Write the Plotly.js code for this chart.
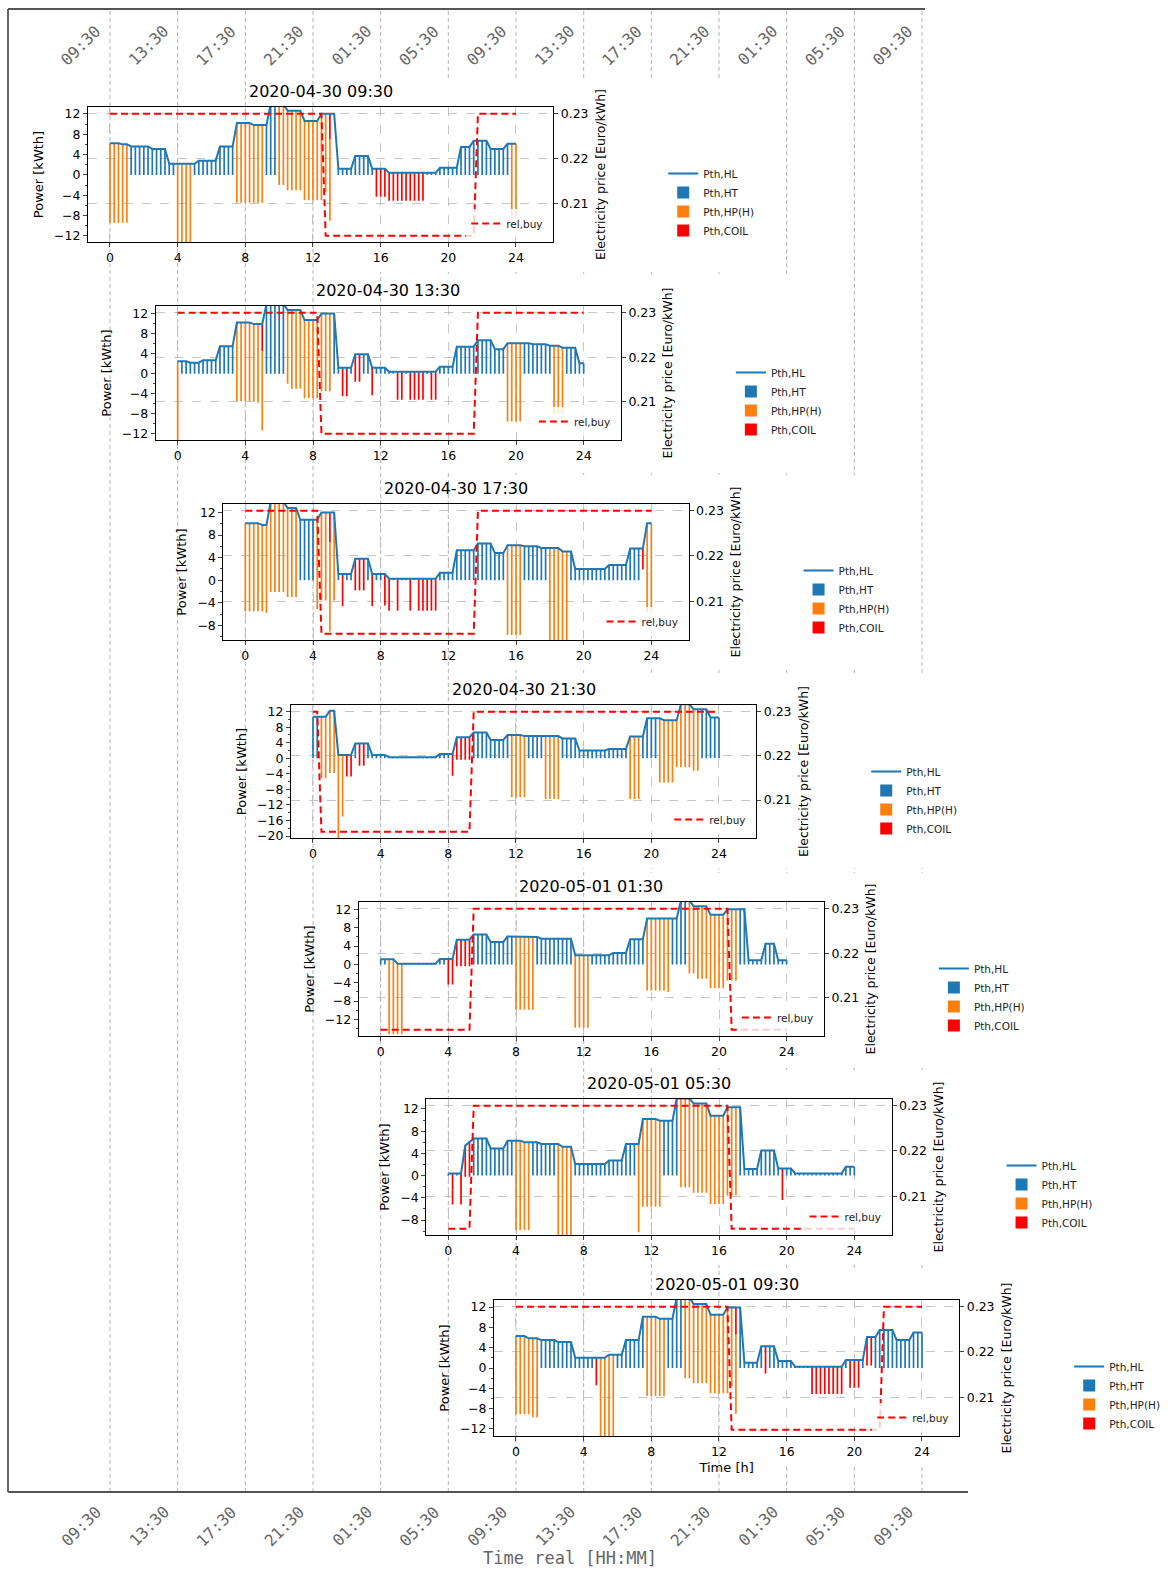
<!DOCTYPE html>
<html><head><meta charset="utf-8">
<script src="https://cdn.plot.ly/plotly-3.0.1.min.js"></script>
<style>html,body{margin:0;padding:0;background:#fff}</style>
</head><body>
<div id="chart" style="width:1168px;height:1571px"></div>
<script>
// ---------------- data ----------------
const TITLES = ['2020-04-30 09:30','2020-04-30 13:30','2020-04-30 17:30','2020-04-30 21:30','2020-05-01 01:30','2020-05-01 05:30','2020-05-01 09:30'];
const OUTER_HOURS = [0,4,8,12,16,20,24,28,32,36,40,44,48];
const OUTER_LABELS = ['09:30','13:30','17:30','21:30','01:30','05:30','09:30','13:30','17:30','21:30','01:30','05:30','09:30'];
const X_TICKS = [0,4,8,12,16,20,24];
const PRICE_TICKS = [0.21,0.22,0.23];
const SERIES_NAMES = ['Pth,HL','Pth,HT','Pth,HP(H)','Pth,COIL','rel,buy'];

// heat load: [start hour, value]
const HL1 = [[0,6.2],[0.75,6.0],[1.25,5.6],[2.5,5.1],[3.5,2.2],[5.25,2.8],[6.5,5.6],[7.5,10.2],[8.5,9.8],[9.5,13.9],[10.5,12.6],[11.5,10.6],[12.5,12.0],[13.5,1.2],[14.5,3.7],[15.5,1.2],[16.5,0.4],[19.5,1.4],[20.75,5.5],[21.5,6.7],[22.5,5.1],[23.5,6.1]];
const HL2 = [[0,2.5],[0.75,2.2],[1.5,2.7],[2.5,5.5],[3.5,10.2],[4.5,9.9],[5.25,13.9],[6.5,12.7],[7.5,10.7],[8.5,12.0],[9.5,1.2],[10.5,3.9],[11.5,1.2],[12.5,0.4],[15.5,1.4],[16.5,5.4],[17.75,6.7],[18.75,4.9],[19.5,6.1],[21,5.9],[22,5.6],[22.75,5.2],[23.75,2.1]];
const HL3 = [[0,10.1],[1.0,9.8],[1.5,13.9],[2.5,12.8],[3.25,10.7],[4.5,12.0],[5.5,1.1],[6.5,3.8],[7.5,1.1],[8.5,0.25],[11.5,1.3],[12.5,5.3],[13.75,6.5],[14.75,4.8],[15.5,6.2],[16.5,6.0],[17.5,5.7],[18.75,5.1],[19.5,2.0],[21.5,2.7],[22.75,5.6],[23.75,10.1]];
const HL4 = [[0,10.7],[1,12.2],[1.5,0.85],[2.5,3.8],[3.5,0.85],[4.5,0.25],[7.5,1.1],[8.5,5.4],[9.5,6.6],[10.5,4.7],[11.5,6.0],[12.5,5.7],[14.75,5.1],[15.75,2.0],[17.5,2.4],[18.75,5.6],[19.75,10.3],[20.75,9.8],[21.75,13.9],[22.5,12.6],[23.5,10.5]];
const HL5 = [[0,1.1],[1,0.15],[3.5,1.2],[4.5,5.4],[5.5,6.5],[6.5,4.9],[7.5,6.1],[8.5,6.0],[9.5,5.6],[11.5,2.0],[13.75,2.5],[14.75,5.5],[15.75,10.0],[17.75,13.9],[18.5,12.7],[19.5,10.8],[20.5,12.0],[21.75,0.9],[22.75,4.5],[23.5,0.9]];
const HL6 = [[0,0.4],[1,5.4],[1.25,6.1],[1.5,6.7],[2.5,4.9],[3.5,6.3],[4.5,6.0],[5.5,5.7],[6.75,5.2],[7.5,2.1],[9.5,2.7],[10.5,5.7],[11.5,10.2],[12.5,9.9],[13.5,13.9],[14.5,13.0],[15.5,10.8],[16.5,12.3],[17.5,1.2],[18.5,4.5],[19.5,1.3],[20.5,0.4],[23.5,1.6]];
const HL7 = [[0,6.3],[0.75,5.85],[1.5,5.5],[2.5,5.1],[3.5,2.0],[5.5,2.6],[6.5,5.5],[7.5,10.1],[8.5,9.7],[9.5,13.9],[10.5,12.6],[11.5,10.5],[12.5,11.9],[13.5,1.05],[14.5,4.3],[15.5,1.4],[16.5,0.25],[19.5,1.6],[20.75,6.1],[21.5,7.5],[22.5,5.5],[23.5,7.0]];

// bars: [start, end, kind (T=HT, H=HP(H), C=COIL), bottom, optional top]
const BAR1 = [[0,1.25,'H',-9.4],[1.25,4,'T'],[4,5,'H',-14],[5,7.5,'T'],[7.5,9.25,'H',-5.5],[9.25,10,'T'],[10,10.5,'H',-2],[10.5,11.5,'H',-3],[11.5,12.75,'H',-5],[12.75,13,'H',-3.4],[13,13.25,'H',-9,7],[13,13.25,'C',7],[13.5,15.75,'T'],[15.75,16.5,'C',-4.3],[16.5,18.75,'C',-5.1],[18.75,23.75,'T'],[23.75,24.25,'H',-8.2]];
const BAR2 = [[0,0.25,'H',-14],[0.25,3.5,'T'],[3.5,4.75,'H',-5.5],[4.75,5,'H',-5.8],[5,5.25,'H',-11.3,4.5],[5,5.25,'C',4.5],[5.25,6.5,'T'],[6.5,6.75,'H',-2],[6.75,7.5,'H',-3],[7.5,8.5,'H',-4.9],[8.5,9.25,'H',-3.5],[9.25,9.75,'T'],[9.75,10.25,'C',-4.5],[10.25,10.5,'T'],[10.5,11,'C',-1.6],[11,11.5,'T'],[11.5,11.75,'C',-4.3],[11.75,13,'T'],[13,13.5,'C',-5.2],[13.5,13.75,'T'],[13.75,14.75,'C',-5.2],[14.75,15,'T'],[15,15.5,'C',-5.2],[15.5,19.5,'T'],[19.5,20.5,'H',-9.5],[20.5,22.25,'T'],[22.25,23,'H',-8],[23,24.25,'T']];
const BAR3 = [[0,1.25,'H',-5.5],[1.25,1.5,'H',-5.8],[1.5,2.5,'H',-2.1],[2.5,3.25,'H',-3.0],[3.25,4.25,'T'],[4.25,4.5,'H',-5.1],[4.5,5,'H',-3.6],[5,5.25,'H',-9.1,6.7],[5,5.25,'C',6.7],[5.25,5.5,'H',-3.6],[5.5,5.75,'T'],[5.75,6,'C',-4.6],[6,6.5,'T'],[6.5,7.25,'C',-1.8],[7.25,7.5,'T'],[7.5,7.75,'C',-4.6],[7.75,8.25,'T'],[8.25,8.5,'C',-4.5],[8.5,8.75,'C',-5.4],[8.75,9,'T'],[9,9.25,'C',-5.4],[9.25,9.75,'T'],[9.75,10,'C',-5.4],[10,10.25,'T'],[10.25,11.5,'C',-5.4],[11.5,15.5,'T'],[15.5,16.5,'H',-9.7],[16.5,18,'T'],[18,19.25,'H',-11],[19.25,23.5,'T'],[23.5,23.75,'C',1.9],[23.75,24.25,'H',-5.7]];
const BAR4 = [[0,0.5,'T'],[0.5,1,'H',-5.1],[1,1.5,'H',-3.8],[1.5,1.75,'H',-21],[1.75,2,'H',-15],[2,2.5,'C',-4.7],[2.5,2.75,'T'],[2.75,3.25,'C',-1.9],[3.25,8.25,'T'],[8.25,8.5,'C',-4.5],[8.5,9.5,'C',-0.4],[9.5,11.75,'T'],[11.75,12.75,'H',-10],[12.75,13.75,'T'],[13.75,14.75,'H',-10.5],[14.75,18.75,'T'],[18.75,19.5,'H',-10.5],[19.5,20.5,'T'],[20.5,21.5,'H',-6.2],[21.5,22.5,'H',-2.3],[22.5,23,'H',-3.2],[23,24.25,'T']];
const BAR5 = [[0,0.5,'T'],[0.5,1.5,'H',-15.2],[1.5,4,'T'],[4,4.5,'C',-4.4],[4.5,5.5,'C',-0.4],[5.5,8,'T'],[8,9.25,'H',-9.9],[9.25,11.5,'T'],[11.5,12.5,'H',-13.8],[12.5,15.75,'T'],[15.75,17,'H',-5.7],[17,17.25,'H',-6],[17.25,18.25,'T'],[18.25,18.75,'H',-2.0],[18.75,19.5,'H',-3.1],[19.5,20.5,'H',-5.2],[20.5,21.25,'H',-3.5],[21.25,24.25,'T']];
const BAR6 = [[0,0.25,'T'],[0.25,0.5,'C',-5.2],[0.5,0.75,'T'],[0.75,1,'C',-5.2],[1,1.5,'C',-0.2],[1.5,4,'T'],[4,5,'H',-9.8],[5,6.5,'T'],[6.5,7.5,'H',-11.5],[7.5,11.25,'T'],[11.25,11.5,'H',-10.2],[11.5,12.75,'H',-5.6],[12.75,13.75,'T'],[13.75,14.5,'H',-2.1],[14.5,15.5,'H',-3.1],[15.5,16.5,'H',-5.1],[16.5,17.25,'H',-3.6],[17.25,19.75,'T'],[19.75,20,'C',-4.4],[20,24.25,'T']];
const BAR7 = [[0,1,'H',-9.1],[1,1.5,'H',-9.7],[1.5,4.75,'T'],[4.75,5,'C',-3.4],[5,6,'H',-14],[6,7.75,'T'],[7.75,9,'H',-5.5],[9,10,'T'],[10,10.5,'H',-2.0],[10.5,11.5,'H',-3.0],[11.5,12.75,'H',-5.0],[12.75,13,'H',-3.6],[13,13.25,'H',-9,6.6],[13,13.25,'C',6.6],[13.25,14.75,'T'],[14.75,15,'C',-1.1],[15,17.5,'T'],[17.5,19.5,'C',-5.1],[19.5,19.75,'T'],[19.75,20.5,'C',-3.9],[20.5,20.75,'T'],[20.75,21.25,'C',0.5],[21.25,24.25,'T']];

// electricity price: [start hour, value]
const PRICE1 = [[0,0.23],[12.75,0.2028],[21.75,0.23]];
const PRICE2 = [[0,0.23],[8.5,0.2028],[17.75,0.23]];
const PRICE3 = [[0,0.23],[4.5,0.2028],[13.75,0.23]];
const PRICE4 = [[0,0.23],[0.5,0.2028],[9.5,0.23]];
const PRICE5 = [[0,0.2028],[5.5,0.23],[20.75,0.2028]];
const PRICE6 = [[0,0.2028],[1.5,0.23],[16.75,0.2028]];
const PRICE7 = [[0,0.23],[12.75,0.2028],[21.75,0.23]];

const HLS = [HL1,HL2,HL3,HL4,HL5,HL6,HL7];
const BARS = [BAR1,BAR2,BAR3,BAR4,BAR5,BAR6,BAR7];
const PRICES = [PRICE1,PRICE2,PRICE3,PRICE4,PRICE5,PRICE6,PRICE7];

// ---------------- layout constants ----------------
const W = 1168, H = 1571;
const PX = (922 - 110) / 48;          // pixels per hour on outer axis
const TOPS = [107,306,504,705,902,1099,1300];
const BOTS = [242,440,640,838,1036,1235,1436];
const XR = [-1.3, 26.2];
const YR = [[-13.2,13.35],[-13.2,13.5],[-10.6,13.5],[-20.5,13.7],[-15.6,13.6],[-10.7,13.8],[-13.4,13.4]];
const PR = [0.2014, 0.2315];
const C_BLUE = '#1f77b4', C_ORANGE = '#ff7f0e', C_RED = '#ff0000';
const FONT = 'DejaVu Sans, sans-serif';
const MONO = 'DejaVu Sans Mono, monospace';

const T = []; for (let i = 0; i <= 96; i++) T.push(i * 0.25);
function stepAt(segs, t) { let v = segs[0][1]; for (const s of segs) if (t >= s[0] - 1e-9) v = s[1]; return v; }
function barSeries(hl, bars, kind) {
  const x = [], y = [], base = [];
  for (const t of T) for (const b of bars) {
    if (b[2] !== kind) continue;
    if (t >= b[0] - 1e-9 && t < b[1] - 1e-9) {
      const top = b.length > 4 ? b[4] : stepAt(hl, t);
      const bot = kind === 'T' ? 0 : b[3];
      x.push(t); base.push(bot); y.push(top - bot);
    }
  }
  return {x, y, base};
}

const data = [{x: [], y: [], xaxis: 'x', yaxis: 'y', type: 'scatter', showlegend: false, hoverinfo: 'skip'}];
const layout = {
  width: W, height: H, autosize: false,
  margin: {l: 0, r: 0, t: 0, b: 0},
  paper_bgcolor: '#fff', plot_bgcolor: 'rgba(0,0,0,0)',
  font: {family: FONT, size: 12, color: '#000'},
  showlegend: true, barmode: 'overlay', hovermode: false,
  xaxis: {domain: [100 / W, 932 / W], range: [-10 / PX, 48 + 10 / PX], visible: false, fixedrange: true},
  yaxis: {domain: [0, 1], range: [0, 1], visible: false, fixedrange: true},
  shapes: [], annotations: []
};

// outer grid lines
for (const h of OUTER_HOURS) {
  layout.shapes.push({type: 'line', xref: 'x', yref: 'paper', x0: h, x1: h, y0: 1 - 1492 / H, y1: 1 - 9 / H,
    line: {color: '#b4b4b4', width: 1, dash: '4px,3px'}, layer: 'below'});
}
// white covers of the inset panels
for (let k = 0; k < 7; k++) {
  layout.shapes.push({type: 'rect', xref: 'x', yref: 'paper', x0: 4 * k + 14, x1: 4 * k + 38.5,
    y0: 1 - (BOTS[k] + 30) / H, y1: 1 - (TOPS[k] - 29) / H, fillcolor: '#fff', line: {width: 0}, layer: 'below'});
}
// outer frame
layout.shapes.push({type: 'line', xref: 'paper', yref: 'paper', x0: 8 / W, x1: 925 / W, y0: 1 - 9 / H, y1: 1 - 9 / H, line: {color: '#555', width: 1.8}});
layout.shapes.push({type: 'line', xref: 'paper', yref: 'paper', x0: 8 / W, x1: 8 / W, y0: 1 - 9 / H, y1: 1 - 1492 / H, line: {color: '#555', width: 1.8}});
layout.shapes.push({type: 'line', xref: 'paper', yref: 'paper', x0: 8 / W, x1: 968 / W, y0: 1 - 1492 / H, y1: 1 - 1492 / H, line: {color: '#555', width: 1.8}});

// outer tick labels
OUTER_HOURS.forEach((h, i) => {
  for (const yc of [46, 1526]) {
    layout.annotations.push({xref: 'x', yref: 'paper', x: h, y: 1 - yc / H, xshift: -29, text: OUTER_LABELS[i],
      textangle: -45, showarrow: false, xanchor: 'center', yanchor: 'middle', font: {family: MONO, size: 16, color: '#666'}});
  }
});
layout.annotations.push({xref: 'paper', yref: 'paper', x: 570 / W, y: 1 - 1558 / H, text: 'Time real [HH:MM]', showarrow: false,
  xanchor: 'center', yanchor: 'middle', font: {family: MONO, size: 17, color: '#666'}});

// inner panels
for (let k = 0; k < 7; k++) {
  const xa = 'x' + (k + 2), ya = 'y' + (k + 2), yp = 'y' + (k + 9);
  const zeroPx = 110 + 4 * k * PX;
  const left = zeroPx + XR[0] * PX, right = zeroPx + XR[1] * PX;
  const legExt = 'legend' + (2 * k + 2), legBuy = 'legend' + (2 * k + 3);
  const hl = HLS[k], bars = BARS[k], pr = PRICES[k];

  data.push({type: 'scatter', mode: 'lines', name: SERIES_NAMES[0], x: T, y: T.map(t => stepAt(hl, t)),
    xaxis: xa, yaxis: ya, line: {color: C_BLUE, width: 2}, legend: legExt, hoverinfo: 'skip'});
  const kinds = [['T', SERIES_NAMES[1], C_BLUE], ['H', SERIES_NAMES[2], C_ORANGE], ['C', SERIES_NAMES[3], C_RED]];
  for (const [kind, nm, col] of kinds) {
    const s = barSeries(hl, bars, kind);
    data.push({type: 'bar', name: nm, x: s.x, y: s.y, base: s.base, width: 0.1, xaxis: xa, yaxis: ya,
      marker: {color: col, line: {width: 0}}, legend: legExt, hoverinfo: 'skip'});
  }
  data.push({type: 'scatter', mode: 'lines', name: SERIES_NAMES[4], x: T, y: T.map(t => stepAt(pr, t)),
    xaxis: xa, yaxis: yp, line: {color: C_RED, width: 2, dash: '7px,4px'}, legend: legBuy, hoverinfo: 'skip'});

  const axKey = 'xaxis' + (k + 2), yKey = 'yaxis' + (k + 2), pKey = 'yaxis' + (k + 9);
  layout[axKey] = {domain: [left / W, right / W], range: XR, anchor: ya, tickvals: X_TICKS, ticks: 'outside', ticklen: 4,
    showline: true, mirror: true, linecolor: '#000', linewidth: 1, showgrid: true, griddash: 'dash', gridcolor: '#b8b8b8',
    gridwidth: 0.8, zeroline: false, tickfont: {size: 12.5}, fixedrange: true};
  if (k === 6) layout[axKey].title = {text: 'Time [h]', font: {size: 13}, standoff: 4};
  layout[yKey] = {domain: [1 - BOTS[k] / H, 1 - TOPS[k] / H], range: YR[k], anchor: xa, tick0: 0, dtick: 4,
    ticks: 'outside', ticklen: 4, showline: true, mirror: true, linecolor: '#000', linewidth: 1, showgrid: false,
    zeroline: false, tickfont: {size: 12.5}, title: {text: 'Power [kWth]', font: {size: 13}, standoff: 7},
    minor: {dtick: 2, ticklen: 2, ticks: 'outside', showgrid: false}, fixedrange: true};
  layout[pKey] = {overlaying: ya, side: 'right', anchor: xa, range: PR, tickvals: PRICE_TICKS, tickformat: '.2f',
    ticks: 'outside', ticklen: 4, showgrid: true, griddash: 'dash', gridcolor: '#b8b8b8', gridwidth: 0.8,
    zeroline: false, showline: false, tickfont: {size: 12.5},
    title: {text: 'Electricity price [Euro/kWh]', font: {size: 12.5}, standoff: 8}, fixedrange: true};

  layout[legExt] = {x: (right + 110) / W, y: 1 - (TOPS[k] + 52) / H, xanchor: 'left', yanchor: 'top',
    font: {size: 10.5, color: '#222'}, bgcolor: 'rgba(0,0,0,0)', borderwidth: 0, tracegroupgap: 0};
  layout[legBuy] = {x: (right - 5) / W, y: 1 - (BOTS[k] - 4) / H, xanchor: 'right', yanchor: 'bottom',
    font: {size: 10.5, color: '#222'}, bgcolor: 'rgba(255,255,255,0.8)', borderwidth: 0};

  layout.annotations.push({xref: 'paper', yref: 'paper', x: (left + right) / 2 / W, y: 1 - (TOPS[k] - 4) / H,
    text: TITLES[k], showarrow: false, xanchor: 'center', yanchor: 'bottom', font: {size: 16, color: '#000'}});
}

Plotly.newPlot('chart', data, layout, {staticPlot: true, displayModeBar: false});
</script>
</body></html>
